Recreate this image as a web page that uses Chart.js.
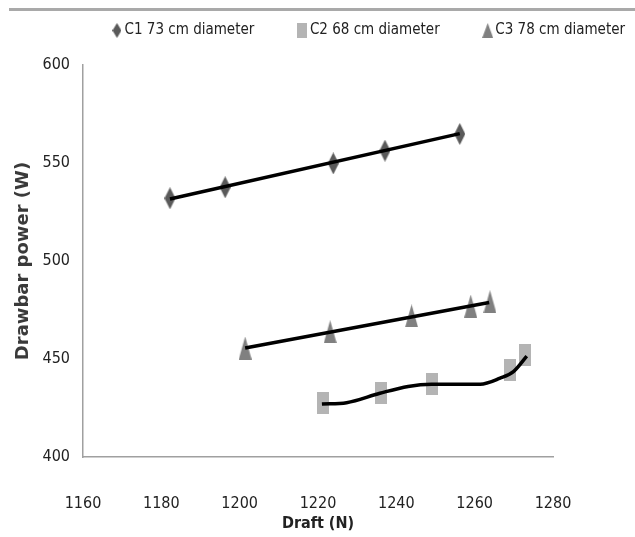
<!DOCTYPE html>
<html>
<head>
  <meta charset="UTF-8">
  <title>Drawbar power vs draft</title>
  <script src="https://cdn.jsdelivr.net/npm/chart.js@4.4.1/dist/chart.umd.min.js"></script>
  <style>
    body { margin: 0; background: #fff; }
    #wrap { position: relative; width: 635px; height: 537px; }
    #topline { position: absolute; top: 8px; left: 9px; right: 0; height: 3px; background: #a9a9a9; }
    canvas { position: absolute; left: 0; top: 0; }
  </style>
</head>
<body>
  <div id="wrap">
    <canvas id="chart" width="635" height="537"></canvas>
    <div id="topline"></div>
  </div>

  <script>
    // measured points (draft N, drawbar power W)
    const c1Draft = [1182.2, 1196.3, 1223.9, 1237.1, 1256.2];
    const c1Power = [532.0, 537.6, 549.8, 556.3, 564.8];
    const c2Draft = [1221.2, 1236.1, 1249.0, 1269.0, 1272.8];
    const c2Power = [427.4, 432.8, 437.2, 444.4, 452.0];
    const c3Draft = [1201.4, 1223.1, 1243.9, 1259.0, 1263.9];
    const c3Power = [455.6, 463.9, 472.0, 477.0, 479.2];

    // trend lines
    const c1FitDraft = [1182.2, 1256.2];
    const c1FitPower = [531.6, 565.0];
    const c3FitDraft = [1201.4, 1263.7];
    const c3FitPower = [455.6, 478.8];
    const c2FitDraft = [1221.0, 1227.3, 1235.8, 1243.0, 1249.0, 1261.4, 1266.5, 1269.9, 1273.3];
    const c2FitPower = [427.0, 427.7, 432.5, 436.0, 437.1, 437.1, 440.2, 443.6, 451.5];

    const seriesNames = ["C1 73 cm diameter", "C2 68 cm diameter", "C3 78 cm diameter"];

    const narrow = "'Liberation Sans Narrow', 'DejaVu Sans Condensed', 'Liberation Sans', sans-serif";

    function marker(shape, w, h, color) {
      const c = document.createElement("canvas");
      c.width = w; c.height = h;
      const g = c.getContext("2d");
      g.fillStyle = color;
      g.beginPath();
      if (shape === "diamond") {
        g.moveTo(w / 2, 0); g.lineTo(w, h / 2); g.lineTo(w / 2, h); g.lineTo(0, h / 2);
      } else if (shape === "triangle") {
        g.moveTo(w / 2, 0); g.lineTo(w, h); g.lineTo(0, h);
      } else {
        g.rect(0, 0, w, h);
      }
      g.closePath();
      g.fill();
      return c;
    }

    const markers = [
      marker("diamond", 11, 22, "#5a5a5a"),
      marker("square", 12, 22, "#b4b4b4"),
      marker("triangle", 13, 23, "#808080")
    ];
    const legendMarkers = [
      marker("diamond", 9, 15, "#5a5a5a"),
      marker("square", 10, 15, "#b4b4b4"),
      marker("triangle", 11, 15, "#808080")
    ];

    const pts = (xs, ys) => xs.map((x, i) => ({ x: x, y: ys[i] }));

    function pointSet(i, xs, ys) {
      return {
        label: seriesNames[i],
        data: pts(xs, ys),
        showLine: false,
        pointStyle: markers[i],
        pointRadius: 6,
        backgroundColor: "#808080",
        borderColor: "#808080",
        order: 1
      };
    }

    function fitSet(xs, ys, curved) {
      return {
        label: "fit",
        data: pts(xs, ys),
        showLine: true,
        pointRadius: 0,
        borderColor: "#000",
        borderWidth: 3.5,
        cubicInterpolationMode: curved ? "monotone" : "default",
        order: 0
      };
    }

    // legend sits high, plot starts lower: stretch the legend box
    const legendGap = {
      id: "legendGap",
      beforeInit(chart) {
        const fit = chart.legend.fit;
        chart.legend.fit = function () {
          fit.call(this);
          this.height = 90;
        };
      }
    };

    new Chart(document.getElementById("chart"), {
      type: "scatter",
      data: {
        datasets: [
          pointSet(0, c1Draft, c1Power),
          pointSet(1, c2Draft, c2Power),
          pointSet(2, c3Draft, c3Power),
          fitSet(c1FitDraft, c1FitPower, false),
          fitSet(c2FitDraft, c2FitPower, true),
          fitSet(c3FitDraft, c3FitPower, false)
        ]
      },
      plugins: [legendGap],
      options: {
        responsive: false,
        animation: false,
        layout: { padding: { top: -25, right: -97, bottom: 2, left: 10 } },
        plugins: {
          tooltip: { enabled: false },
          legend: {
            position: "top",
            align: "center",
            labels: {
              color: "#222",
              font: { family: narrow, size: 15 },
              usePointStyle: true,
              pointStyleWidth: 0.1,
              padding: 48,
              filter: item => item.text !== "fit",
              generateLabels: chart => {
                const items = Chart.defaults.plugins.legend.labels.generateLabels(chart);
                items.forEach(it => {
                  if (it.datasetIndex < 3) it.pointStyle = legendMarkers[it.datasetIndex];
                });
                return items;
              }
            }
          }
        },
        scales: {
          x: {
            type: "linear",
            min: 1160,
            max: 1280,
            ticks: {
              stepSize: 20, color: "#222", padding: 37,
              font: { family: narrow, size: 16 },
              callback: v => String(v)
            },
            grid: { display: false, drawTicks: false },
            border: { color: "#a0a0a0", width: 1.5 },
            title: {
              display: true,
              text: "Draft (N)",
              color: "#222",
              font: { family: narrow, size: 16, weight: "bold" },
              padding: { top: 0, bottom: 2 }
            },
            afterFit: s => { s.height = 78; }
          },
          y: {
            min: 400,
            max: 600,
            ticks: { stepSize: 50, color: "#222", padding: 13, font: { family: narrow, size: 16 } },
            grid: { display: false, drawTicks: false },
            border: { color: "#a0a0a0", width: 1.5 },
            title: {
              display: true,
              text: "Drawbar power (W)",
              color: "#3a3a3a",
              font: { family: "'DejaVu Sans'", size: 18, weight: "bold" },
              padding: { top: 3, bottom: 0 }
            },
            afterFit: s => { s.width = 73; }
          },
          // empty right-hand strip so the plot stops where the reference's does
          yRight: {
            position: "right",
            min: 400,
            max: 600,
            ticks: { display: false },
            grid: { display: false, drawTicks: false },
            border: { display: false },
            afterFit: s => { s.width = 179; }
          }
        }
      }
    });
  </script>
</body>
</html>
